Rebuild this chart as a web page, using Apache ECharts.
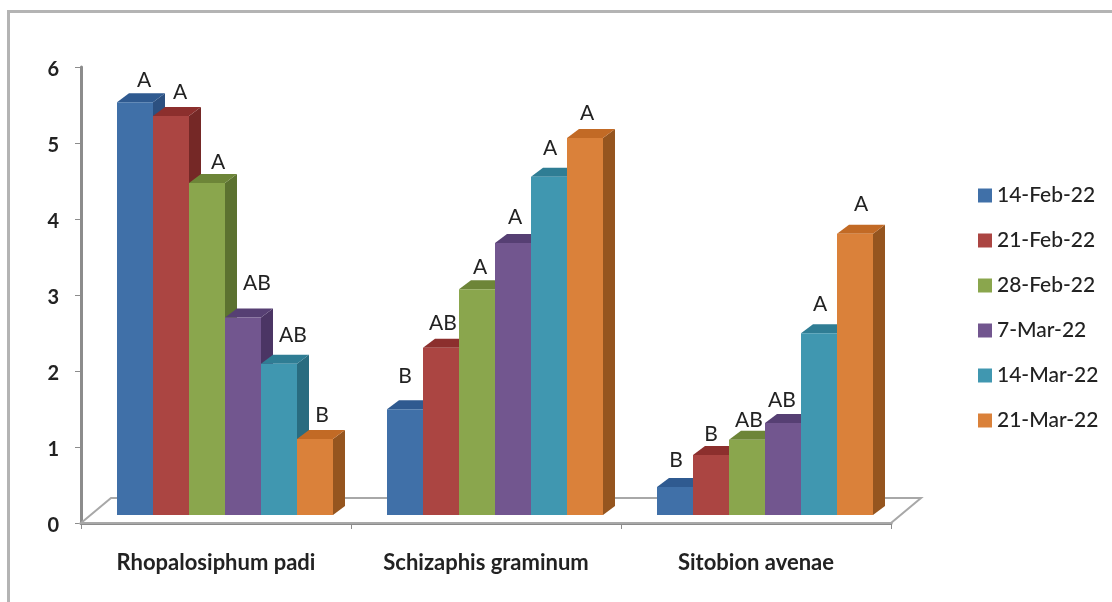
<!DOCTYPE html>
<html>
<head>
<meta charset="utf-8">
<style>html,body{margin:0;padding:0;background:#fff}#main{width:1112px;height:602px}</style>
<script src="https://cdn.jsdelivr.net/npm/echarts@6/dist/echarts.min.js"></script>
</head>
<body>
<div id="main"></div>
<script>
var categories = ["Rhopalosiphum padi", "Schizaphis graminum", "Sitobion avenae"];
var dates = ["14-Feb-22", "21-Feb-22", "28-Feb-22", "7-Mar-22", "14-Mar-22", "21-Mar-22"];
var tickLabels = ["0", "1", "2", "3", "4", "5", "6"];

var feb14 = [5.43, 1.39, 0.37];
var feb21 = [5.25, 2.2, 0.79];
var feb28 = [4.37, 2.97, 0.99];
var mar7 = [2.6, 3.58, 1.21];
var mar14 = [1.99, 4.45, 2.39];
var mar21 = [1.0, 4.96, 3.7];
var values = [feb14, feb21, feb28, mar7, mar14, mar21];

var letters14 = ["A", "B", "B"];
var letters21 = ["A", "AB", "B"];
var letters28 = ["A", "A", "AB"];
var lettersM7 = ["AB", "A", "AB"];
var lettersM14 = ["AB", "A", "A"];
var lettersM21 = ["B", "A", "A"];
var letters = [letters14, letters21, letters28, lettersM7, lettersM14, lettersM21];

var frontColors = ["#4070a8", "#ab4542", "#8aa64d", "#72568f", "#4097b0", "#da813a"];
var topColors = ["#2f5a90", "#8c2f2d", "#6d8538", "#563f73", "#2f7d94", "#c26a25"];
var sideColors = ["#2c5080", "#752826", "#5c7230", "#4b3564", "#296c80", "#95551f"];

var FONT = "Lato, 'Open Sans', sans-serif";
var DEPTH_X = 12, DEPTH_Y = 9;      // bar depth
var WALL_X = 30, WALL_Y = 25;       // floor depth
var LIFT = 8;                       // bars stand this far behind the axis line

// the letters were placed by hand in the original, offset from the bar's top front edge
var labelDx = [[9, 0, 1], [9, 2, 0], [11, 3, 2], [14, 2, -1], [14, 1, 1], [7, 2, 6]];
var labelDy = [[-22, -33, -27], [-24, -25, -21], [-21, -22, -20], [-34, -26, -23], [-29, -29, -29], [-24, -25, -30]];

function barItem(idx) {
    return function (params, api) {
        var c = api.value(0), v = api.value(1);
        var band = api.size([1, 0])[0];
        var w = band * 2 / 15;
        var base = api.coord([c, 0]);
        var top = api.coord([c, v]);
        var x = base[0] + band / 30 + (idx - 3) * w;
        var y0 = base[1] - LIFT, y1 = top[1] - LIFT;
        var x1 = x + w;
        return {
            type: "group",
            children: [
                { type: "polygon", shape: { points: [[x1, y1], [x1 + DEPTH_X, y1 - DEPTH_Y], [x1 + DEPTH_X, y0 - DEPTH_Y], [x1, y0]] },
                  style: { fill: sideColors[idx] } },
                { type: "polygon", shape: { points: [[x, y1], [x + DEPTH_X, y1 - DEPTH_Y], [x1 + DEPTH_X, y1 - DEPTH_Y], [x1, y1]] },
                  style: { fill: topColors[idx] } },
                { type: "rect", shape: { x: x, y: y1, width: w, height: y0 - y1 },
                  style: { fill: frontColors[idx] } },
                { type: "text", x: x + w / 2 + labelDx[idx][c], y: y1 + labelDy[idx][c],
                  style: { text: letters[idx][c], font: "21px " + FONT, fill: "#222", align: "center", verticalAlign: "middle" } }
            ]
        };
    };
}

function floorItem(params) {
    var g = params.coordSys;
    var l = g.x, r = g.x + g.width, b = g.y + g.height;
    return {
        type: "polygon", silent: true,
        shape: { points: [[l, b], [l + WALL_X, b - WALL_Y], [r + WALL_X, b - WALL_Y], [r, b]] },
        style: { fill: "#fff", stroke: "#a8a8a8", lineWidth: 2 }
    };
}

var series = [{ type: "custom", name: "floor", data: [[0, 0]], renderItem: floorItem, z: 1, silent: true }];
dates.forEach(function (d, i) {
    series.push({
        type: "custom",
        name: d,
        z: 2 + i,
        itemStyle: { color: frontColors[i] },
        encode: { x: 0, y: 1 },
        data: values[i].map(function (v, c) { return [c, v]; }),
        renderItem: barItem(i)
    });
});

var chart = echarts.init(document.getElementById("main"), null, { renderer: "canvas" });
chart.setOption({
    animation: false,
    backgroundColor: "#fff",
    // frame runs off the right and bottom of the screenshot
    graphic: [{
        type: "rect", left: 6, top: 9, z: -1,
        shape: { width: 1200, height: 700 },
        style: { fill: "none", stroke: "#b4b4b4", lineWidth: 3 }
    }],
    grid: { left: 81, right: 221, top: 67, bottom: 79 },
    legend: {
        orient: "vertical", left: 978, top: 185, padding: 0,
        data: dates,
        icon: "rect", itemWidth: 14, itemHeight: 14, itemGap: 24, itemStyle: { borderWidth: 0 },
        textStyle: { fontFamily: FONT, fontSize: 21, fontWeight: 500, color: "#222" }
    },
    xAxis: {
        type: "category",
        data: categories,
        axisLine: { lineStyle: { color: "#8c8c8c", width: 3 } },
        axisTick: { show: true, alignWithLabel: false, length: 6, lineStyle: { color: "#8c8c8c", width: 1 } },
        axisLabel: { fontFamily: FONT, fontSize: 22, fontWeight: 700, color: "#222", margin: 29 }
    },
    yAxis: {
        type: "value", min: 0, max: 6, interval: 1,
        splitLine: { show: false },
        axisLine: { show: true, lineStyle: { color: "#8c8c8c", width: 3 } },
        axisTick: { show: true, length: 6, lineStyle: { color: "#8c8c8c", width: 1 } },
        axisLabel: {
            margin: 22,
            formatter: function (v) { return "{n|" + tickLabels[v] + "}"; },
            rich: { n: { fontFamily: FONT, fontSize: 20, fontWeight: 700, color: "#222", padding: [6, 0, 0, 0] } }
        }
    },
    series: series
});
</script>
</body>
</html>
